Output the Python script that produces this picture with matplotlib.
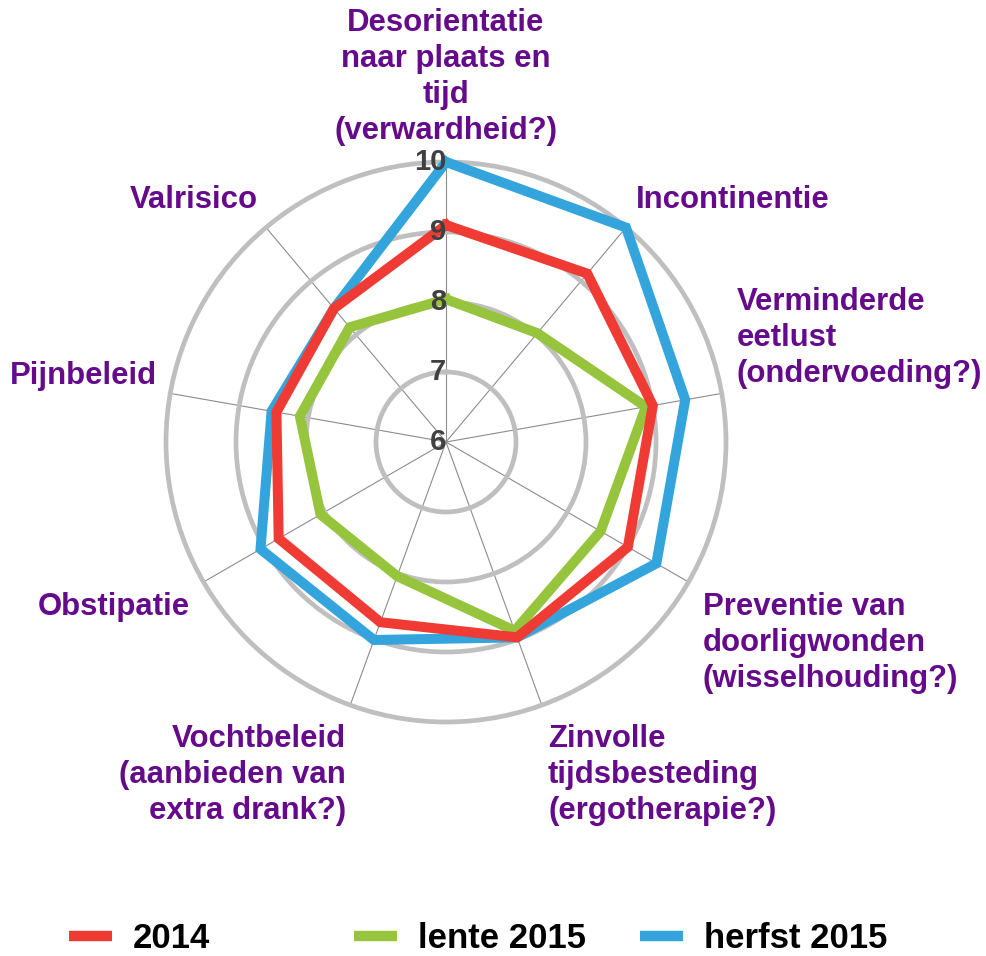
import numpy as np
import matplotlib
matplotlib.use('Agg')
import matplotlib.pyplot as plt
from matplotlib.lines import Line2D

plt.rcParams['font.family'] = ['Liberation Sans', 'DejaVu Sans']
plt.rcParams['font.weight'] = 'bold'

categories = [
    'Desorientatie\nnaar plaats en\ntijd\n(verwardheid?)',
    'Incontinentie',
    'Verminderde\neetlust\n(ondervoeding?)',
    'Preventie van\ndoorligwonden\n(wisselhouding?)',
    'Zinvolle\ntijdsbesteding\n(ergotherapie?)',
    'Vochtbeleid\n(aanbieden van\nextra drank?)',
    'Obstipatie',
    'Pijnbeleid',
    'Valrisico',
]
series_names = ['2014', 'lente 2015', 'herfst 2015']
vals_2014 = [9.1, 9.14, 9.0, 9.0, 8.97, 8.74, 8.76, 8.46, 8.49]
vals_lente = [8.04, 8.03, 8.9, 8.55, 8.87, 8.04, 8.07, 8.12, 8.14]
vals_herfst = [10.0, 10.0, 9.47, 9.47, 8.97, 9.01, 9.06, 8.53, 8.49]
ticks = [6, 7, 8, 9, 10]

colors = {'2014': '#EF3B33', 'lente 2015': '#97C43D', 'herfst 2015': '#34A4DD'}
label_color = '#660A8C'

fig = plt.figure(figsize=(9.87, 9.56), dpi=100)
ax = fig.add_axes([166 / 987, 1 - 722 / 956, 560 / 987, 560 / 956], projection='polar')
ax.set_theta_zero_location('N')
ax.set_theta_direction(-1)

angles = np.linspace(0, 2 * np.pi, len(categories), endpoint=False)

ax.set_ylim(6, 10)
ax.set_yticks(ticks)
ax.set_yticklabels([])
ax.set_xticks(angles)
ax.set_xticklabels([])
ax.spines['polar'].set_visible(False)
ax.yaxis.grid(True, color='#BFBFBF', linewidth=3.4)
ax.xaxis.grid(True, color='#8C8C8C', linewidth=0.8)
for gl in ax.yaxis.get_gridlines():
    gl.set_clip_on(False)

def closed(v):
    return np.concatenate([v, v[:1]])

theta = closed(angles)
data = {'2014': vals_2014, 'lente 2015': vals_lente, 'herfst 2015': vals_herfst}
zorder = {'herfst 2015': 3, 'lente 2015': 4, '2014': 5}
for name in series_names:
    ax.plot(theta, closed(np.array(data[name])), color=colors[name], lw=7.2,
            solid_joinstyle='miter', zorder=zorder[name], clip_on=False)

for t in ticks:
    ax.text(0, t, str(t), ha='right', va='center', fontsize=21,
            color='#404040', fontweight='bold', zorder=10)

# category labels, pixel anchors
label_pos = [
    (446, 77, 'center'),
    (636, 200, 'left'),
    (737, 338, 'left'),
    (703, 643, 'left'),
    (548, 775, 'left'),
    (346, 775, 'right'),
    (190, 607, 'right'),
    (157, 376, 'right'),
    (258, 200, 'right'),
]
for lab, (px, py, ha) in zip(categories, label_pos):
    fig.text(px / 987, 1 - py / 956, lab, ha=ha, va='center', multialignment=ha,
             fontsize=22.4, color=label_color, fontweight='bold', linespacing=1.27)

legend_x = [69, 354, 640]
for name, lx in zip(series_names, legend_x):
    h = Line2D([], [], color=colors[name], lw=7.5, solid_capstyle='butt')
    fig.legend([h], [name], loc='center left', bbox_to_anchor=(lx / 987, 1 - 939 / 956),
               frameon=False, borderpad=0, borderaxespad=0, handlelength=1.25,
               handletextpad=0.6, prop={'size': 25, 'weight': 'bold'})

fig.savefig('out.png', dpi=100)
